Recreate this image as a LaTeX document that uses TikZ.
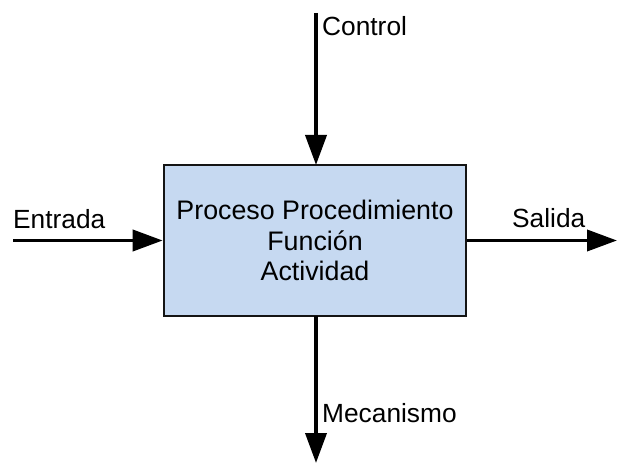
\documentclass[tikz,border=0pt]{standalone}
\usepackage{fontspec}
\setmainfont{Liberation Sans}
\usetikzlibrary{arrows.meta}
\definecolor{boxfill}{RGB}{198,217,241}
\definecolor{boxdraw}{RGB}{20,20,20}
\tikzset{
  x=1pt,y=1pt,
  procbox/.style={draw=boxdraw,line width=2.6pt,fill=boxfill,minimum width=302pt,minimum height=151pt,align=center,inner sep=0pt,font=\fontsize{26.8}{30.5}\selectfont},
  flow/.style={line width=3.8pt,-{Triangle[length=30pt,width=21pt]}},
  lbl/.style={anchor=base west,inner sep=0pt,font=\fontsize{26.3}{30}\selectfont}
}
\begin{document}
\begin{tikzpicture}
\useasboundingbox (0,0) rectangle (618,463);
\node[procbox] (p) at (315,222.5) {Proceso Procedimiento\\Función\\Actividad};
\coordinate (ctl) at (316,450);
\coordinate (ent) at (13,222.5);
\coordinate (sal) at (617,222.5);
\coordinate (mec) at (316,0);
\coordinate (ptop) at (316,298);
\coordinate (pbot) at (316,147);
\draw[flow] (ctl) -- (ptop);
\draw[flow] (ent) -- (p.west);
\draw[flow] (p.east) -- (sal);
\draw[flow] (pbot) -- (mec);
\node[lbl] (lc) at (322,427) {Control};
\node[lbl] (le) at (13,234) {Entrada};
\node[lbl] (ls) at (512,235) {Salida};
\node[lbl] (lm) at (322,41) {Mecanismo};
\end{tikzpicture}
\end{document}
